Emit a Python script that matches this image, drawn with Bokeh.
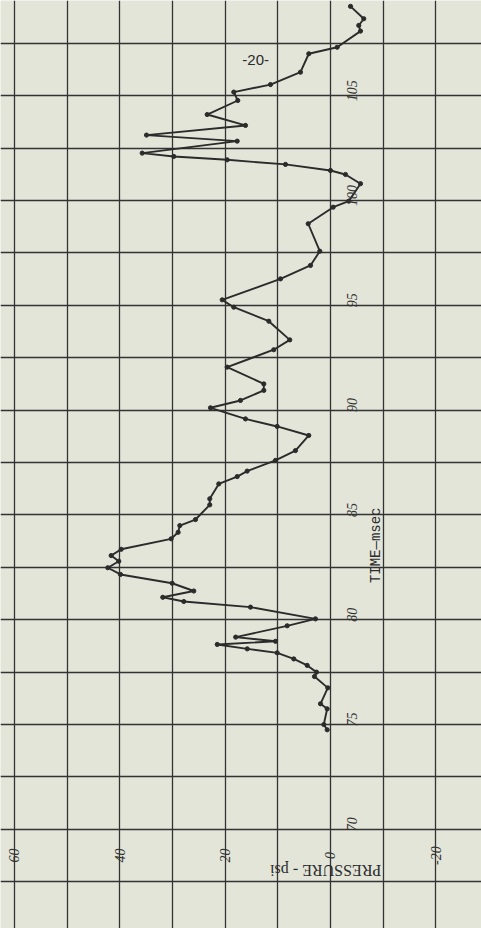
from bokeh.plotting import figure
from bokeh.models import Range1d, Grid, FixedTicker, ColumnDataSource, Label
from bokeh.core.properties import value
from bokeh.embed import file_html
from bokeh.resources import INLINE

# ---- data ----
time_ms = [74.75, 75.0, 75.75, 75.99, 76.75, 77.29, 77.50, 77.82, 78.13, 78.42,
           78.61, 78.82, 78.97, 79.17, 79.71, 80.04, 80.60, 80.87, 81.07, 81.37,
           81.74, 82.16, 82.48, 82.79, 83.06, 83.36, 83.86, 84.17, 84.49, 84.78,
           85.48, 85.77, 86.48, 86.83, 87.09, 87.60, 88.07, 88.79, 89.22, 89.58,
           90.11, 90.46, 90.94, 91.25, 92.05, 92.88, 93.35, 94.24, 94.91, 95.26,
           96.26, 96.90, 97.58, 98.89, 99.68, 99.97, 100.80, 101.24, 101.43, 101.72,
           101.94, 102.10, 102.26, 102.83, 103.12, 103.58, 104.10, 104.77, 105.17, 105.53,
           106.12, 107.00, 107.31, 108.08, 108.35, 108.67, 109.26]
pressure_psi = [0.63, 1.27, 0.63, 1.9, 0.51, 3.04, 2.66, 4.42, 6.97, 10.12,
                15.8, 21.5, 10.44, 18.0, 8.22, 2.85, 15.19, 27.85, 31.84, 25.95,
                30.06, 39.87, 42.28, 40.19, 41.64, 39.74, 30.25, 28.92, 28.61, 25.63,
                22.92, 22.92, 21.21, 17.71, 15.82, 10.44, 6.65, 4.12, 10.12, 16.14,
                22.78, 17.09, 12.66, 12.66, 19.61, 10.77, 7.73, 11.71, 18.36, 20.56,
                9.49, 3.80, 2.03, 4.23, -0.51, -3.47, -5.70, -2.85, 0.0, 8.54,
                19.61, 29.75, 35.75, 17.71, 34.93, 16.14, 23.41, 17.60, 18.36, 11.39,
                5.70, 4.12, -1.27, -5.70, -5.37, -6.32, -3.80]

time_grid = [67.5, 70, 72.5, 75, 77.5, 80, 82.5, 85, 87.5, 90, 92.5, 95, 97.5,
             100, 102.5, 105, 107.5]
pressure_grid = [60, 50, 40, 30, 20, 10, 0, -10, -20]
time_ticks = [70, 75, 80, 85, 90, 95, 100, 105]
time_labels = ["70", "75", "80", "85", "90", "95", "100", "105"]
pressure_ticks = [60, 40, 20, 0, -20]
pressure_labels = ["60", "40", "20", "0", "-20"]

BG = "#e3e5d9"
INK = "#2b2b2b"

p = figure(width=481, height=928, output_backend="svg", toolbar_location=None,
           x_range=Range1d(62.65, -28.67), y_range=Range1d(65.27, 109.54),
           x_axis_type=None, y_axis_type=None, min_border=0,
           background_fill_color=BG, border_fill_color=BG)
p.outline_line_color = None

gx = Grid(dimension=0, ticker=FixedTicker(ticks=pressure_grid),
          grid_line_color="#333333", grid_line_width=1.3)
gy = Grid(dimension=1, ticker=FixedTicker(ticks=time_grid),
          grid_line_color="#333333", grid_line_width=1.3)
p.add_layout(gx, "center")
p.add_layout(gy, "center")

src = ColumnDataSource(dict(t=time_ms, pr=pressure_psi))
p.line("pr", "t", source=src, line_color=INK, line_width=1.9, line_join="round")
p.scatter("pr", "t", source=src, size=4.2, color=INK)

# time tick labels (rotated, read bottom to top)
tsrc = ColumnDataSource(dict(x=[-4.0] * len(time_ticks), y=time_ticks, txt=time_labels))
p.text("x", "y", text="txt", source=tsrc, angle=1.5708, text_align="center",
       text_baseline="middle", y_offset=-5, text_font=value("Liberation Serif"),
       text_font_style="italic", text_font_size="14px", text_color="#333333")

# pressure tick labels
psrc = ColumnDataSource(dict(x=pressure_ticks, y=[68.75] * len(pressure_ticks), txt=pressure_labels))
p.text("x", "y", text="txt", source=psrc, angle=1.5708, text_align="center",
       text_baseline="middle", text_font=value("Liberation Serif"),
       text_font_style="italic", text_font_size="14px", text_color="#333333")

p.add_layout(Label(x=-8.7, y=83.55, text="TIME\u2014msec", angle=1.5708,
                   text_align="center", text_baseline="middle",
                   text_font="Liberation Mono", text_font_size="14px",
                   text_color="#2b2b2b"))
p.add_layout(Label(x=0.9, y=68.05, text="PRESSURE - psi", angle=3.14159,
                   text_align="center", text_baseline="middle",
                   text_font="Liberation Serif", text_font_size="16px",
                   text_color="#2b2b2b"))
p.add_layout(Label(x=14.2, y=106.7, text="-20-", text_align="center",
                   text_baseline="middle", text_font="Liberation Sans",
                   text_font_size="15px", text_color="#2b2b2b"))

open("out.html", "w").write(file_html(p, INLINE))
